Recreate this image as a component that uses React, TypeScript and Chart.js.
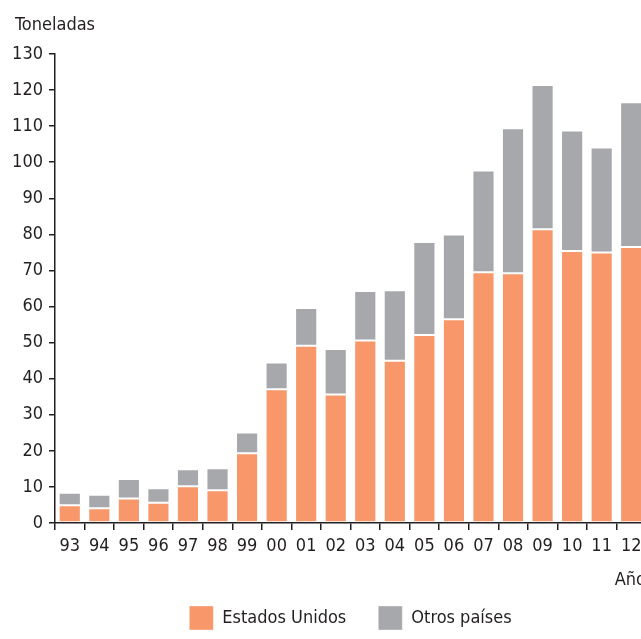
import React, { useEffect, useRef } from "react";
import { Chart, registerables } from "chart.js";

Chart.register(...registerables);

const years = ["93", "94", "95", "96", "97", "98", "99", "00", "01", "02", "03", "04", "05", "06", "07", "08", "09", "10", "11", "12"];
const estadosUnidos = [4.9, 4.1, 6.8, 5.6, 10.2, 9.1, 19.3, 37.1, 49.1, 35.6, 50.6, 45.0, 52.1, 56.5, 69.5, 69.2, 81.4, 75.4, 75.0, 76.5];
const otrosPaises = [3.5, 3.7, 5.4, 4.0, 4.7, 6.1, 5.8, 7.4, 10.5, 12.6, 13.7, 19.5, 25.8, 23.5, 28.2, 40.2, 40.0, 33.4, 29.1, 40.1];
const yTitle = "Toneladas";
const xTitle = "Año";

const FONT = "'DejaVu Sans Condensed', 'Liberation Sans Narrow', sans-serif";
const FS = 18;
const INK = "#231f20";

const yTitlePlugin = {
  id: "yTitleTop",
  afterDraw(chart: any) {
    const ctx = chart.ctx;
    const ys = chart.scales.y;
    ctx.save();
    ctx.font = `${FS}px ${FONT}`;
    ctx.fillStyle = INK;
    ctx.textAlign = "left";
    ctx.textBaseline = "middle";
    ctx.fillText(yTitle, ys.left + 15, ys.top - 29);
    ctx.restore();
  },
};

export default function App() {
  const ref = useRef<HTMLCanvasElement | null>(null);

  useEffect(() => {
    if (!ref.current) return;
    const chart = new Chart(ref.current, {
      type: "bar",
      data: {
        labels: years,
        datasets: [
          {
            label: "Estados Unidos",
            data: estadosUnidos,
            backgroundColor: "#f7976a",
            borderColor: "rgba(255,255,255,0.35)",
            borderWidth: 1,
            borderSkipped: false,
            barPercentage: 0.75,
            categoryPercentage: 1,
          },
          {
            label: "Otros países",
            data: otrosPaises,
            backgroundColor: "#a7a8ab",
            borderColor: "rgba(255,255,255,0.35)",
            borderWidth: 1,
            borderSkipped: false,
            barPercentage: 0.75,
            categoryPercentage: 1,
          },
        ],
      },
      plugins: [yTitlePlugin],
      options: {
        responsive: false,
        animation: false,
        layout: { padding: { left: 0, right: 14, top: 54, bottom: 0 } },
        plugins: {
          tooltip: { enabled: false },
          title: { display: false },
          legend: {
            position: "bottom",
            fullSize: false,
            maxHeight: 65,
            labels: {
              boxWidth: 24,
              boxHeight: 24,
              padding: 32,
              color: INK,
              font: { family: FONT, size: FS },
            },
          },
        },
        scales: {
          x: {
            stacked: true,
            afterFit: (s: any) => {
              s.height = 51;
            },
            grid: {
              display: true,
              drawOnChartArea: false,
              drawTicks: true,
              tickLength: 7,
              color: INK,
              lineWidth: 1.5,
              offset: true,
            },
            border: { display: true, color: INK, width: 1.5 },
            ticks: {
              color: INK,
              padding: 6,
              maxRotation: 0,
              autoSkip: false,
              font: { family: FONT, size: FS },
            },
            title: {
              display: true,
              text: xTitle,
              align: "end",
              color: INK,
              font: { family: FONT, size: FS },
              padding: { top: 0, bottom: -17 },
            },
          },
          y: {
            stacked: true,
            min: 0,
            max: 130,
            afterFit: (s: any) => {
              s.width = 55;
            },
            grid: {
              display: true,
              drawOnChartArea: false,
              drawTicks: true,
              tickLength: 6,
              color: INK,
              lineWidth: 1.5,
            },
            border: { display: true, color: INK, width: 1.5 },
            ticks: {
              stepSize: 10,
              color: INK,
              padding: 6,
              font: { family: FONT, size: FS },
            },
          },
        },
      },
    });
    return () => chart.destroy();
  }, []);

  return (
    <div style={{ position: "fixed", left: 0, top: 0, width: 641, height: 639, overflow: "hidden", background: "#fff" }}>
      <canvas ref={ref} width={660} height={639} />
    </div>
  );
}
